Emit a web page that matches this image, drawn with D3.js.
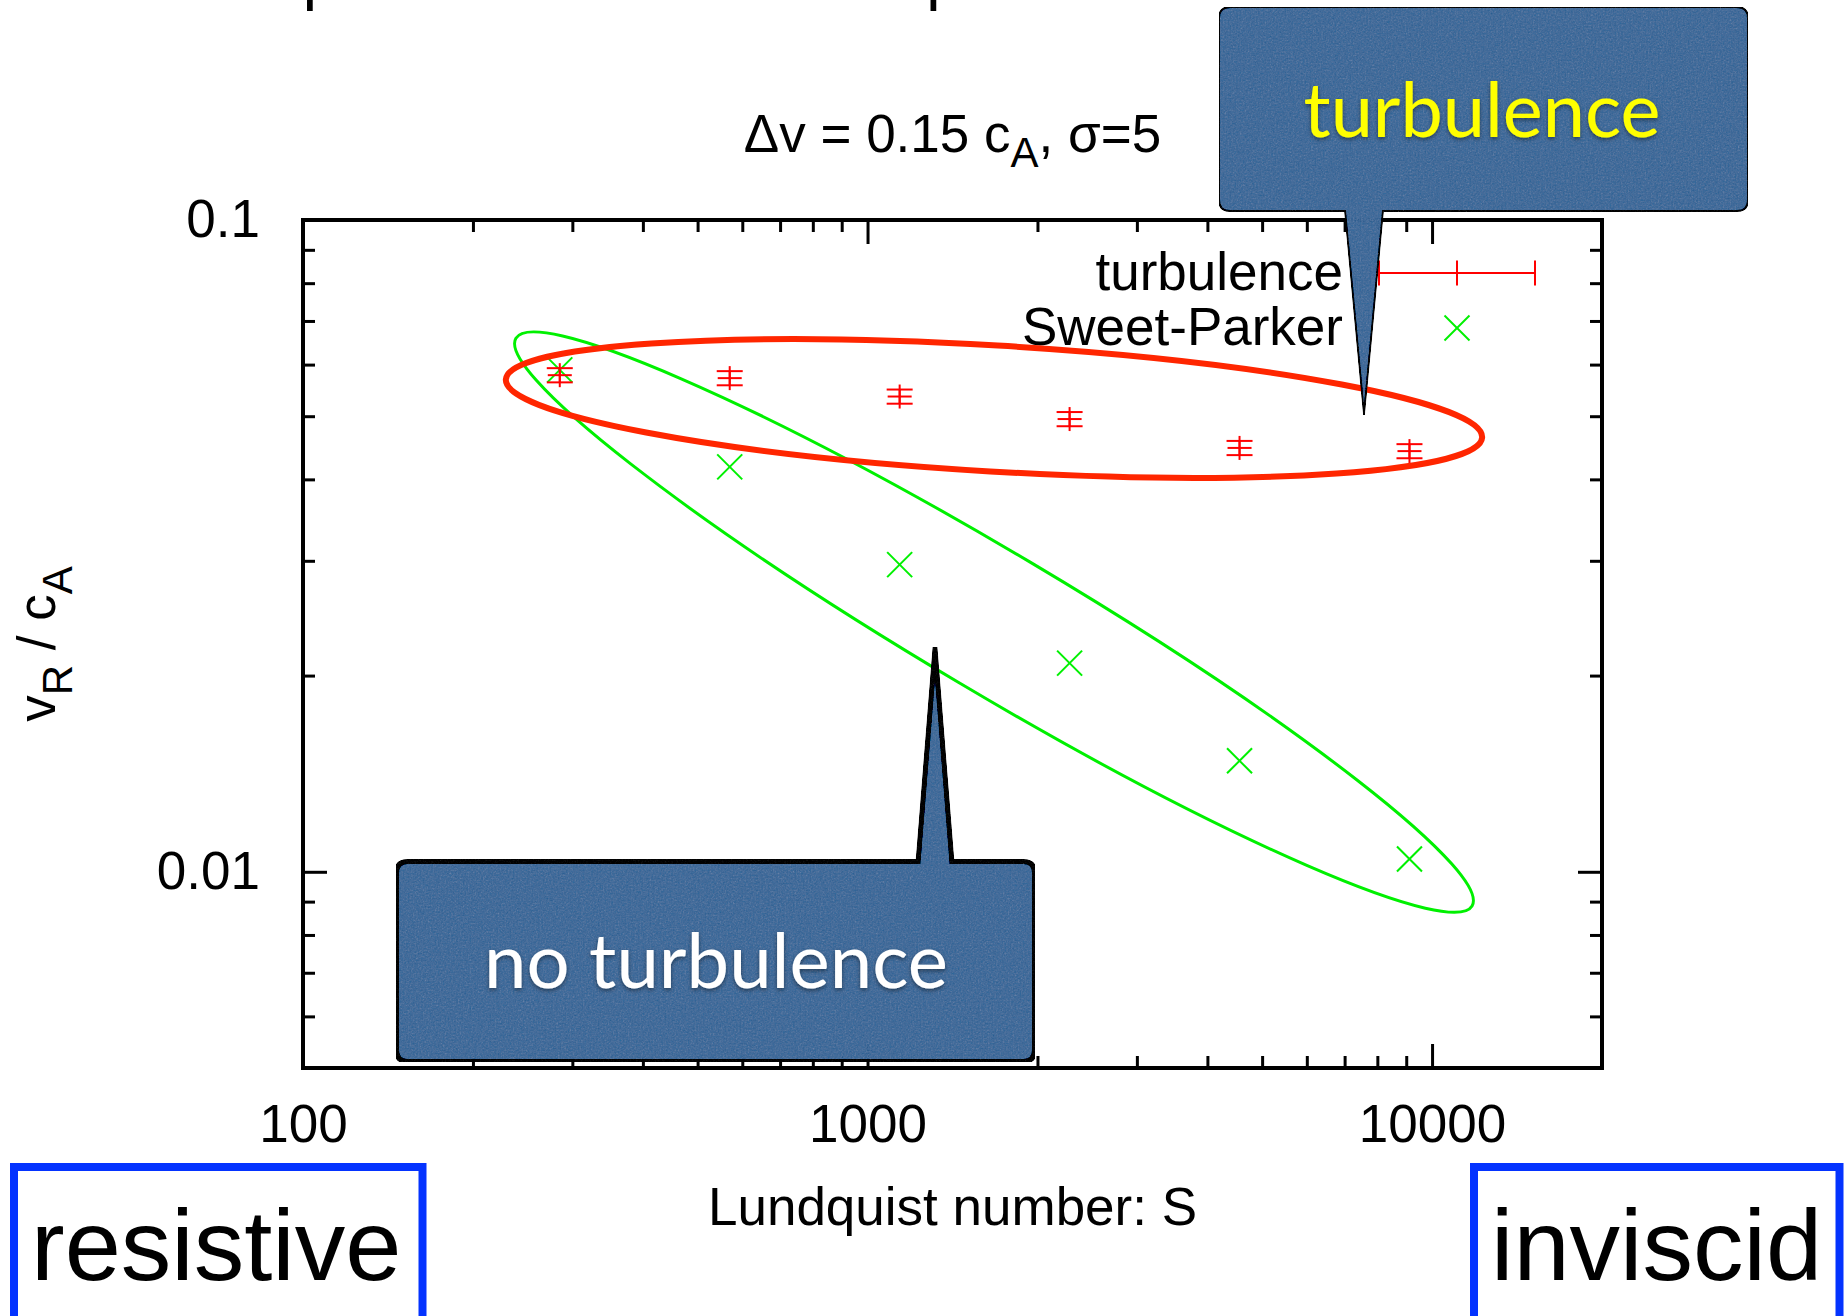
<!DOCTYPE html>
<html>
<head>
<meta charset="utf-8">
<script src="https://cdn.jsdelivr.net/npm/d3@7"></script>
<style>
  body { margin: 0; background: #fff; }
  svg { display: block; }
</style>
</head>
<body>
<div id="chart-area"></div>
<script>
// Data
const lundquist = [285, 570, 1140, 2280, 4560, 9120];
const turbulenceRate = [0.0578, 0.0572, 0.0536, 0.0495, 0.0447, 0.0442];
const turbulenceErr = [0.00145, 0.00143, 0.00134, 0.00124, 0.00112, 0.0011];
const sweetParkerRate = [0.0589, 0.0418, 0.0296, 0.0209, 0.0148, 0.01046];

const xMajor = [100, 1000, 10000];
const xMinor = [200, 300, 400, 500, 600, 700, 800, 900, 2000, 3000, 4000, 5000, 6000, 7000, 8000, 9000];
const xTickLabels = ['100', '1000', '10000'];
const yMajor = [0.01, 0.1];
const yMinor = [0.006, 0.007, 0.008, 0.009, 0.02, 0.03, 0.04, 0.05, 0.06, 0.07, 0.08, 0.09];
const yTickLabels = ['0.01', '0.1'];
const legendLabels = ['turbulence', 'Sweet-Parker'];

// Constants
const W = 1847, H = 1316;
const PLOT = { LEFT: 303, RIGHT: 1602, TOP: 220, BOTTOM: 1068 };
const FONT = '"Liberation Sans", Arial, Helvetica, sans-serif';
const CALLOUT_FONT = 'Lato, "Open Sans", sans-serif';
const FS = 53;
const RED = '#ff0000';
const GREEN = '#00f000';
const CALLOUT_FILL = '#5b7aa3';

// SVG
const svg = d3.select('#chart-area')
    .append('svg')
    .attr('width', W)
    .attr('height', H);

const defs = svg.append('defs');

// paper-like texture for the callouts
const tex = defs.append('filter').attr('id', 'tex')
    .attr('x', 0).attr('y', 0).attr('width', 1).attr('height', 1);
tex.append('feTurbulence').attr('type', 'fractalNoise')
    .attr('baseFrequency', 0.6).attr('numOctaves', 3).attr('seed', 3).attr('result', 'noise');
tex.append('feColorMatrix').attr('in', 'noise').attr('type', 'saturate').attr('values', 0).attr('result', 'gray');
tex.append('feComposite').attr('in', 'SourceGraphic').attr('in2', 'gray')
    .attr('operator', 'arithmetic').attr('k1', 0).attr('k2', 1).attr('k3', 0.2).attr('k4', -0.1).attr('result', 'mix');
tex.append('feComposite').attr('in', 'mix').attr('in2', 'SourceAlpha').attr('operator', 'in');

const shadow = defs.append('filter').attr('id', 'shadow')
    .attr('x', -0.1).attr('y', -0.2).attr('width', 1.2).attr('height', 1.5);
shadow.append('feDropShadow').attr('dx', 0).attr('dy', 2).attr('stdDeviation', 2)
    .attr('flood-color', '#000').attr('flood-opacity', 0.45);

// cut-off slide title (only descenders visible)
svg.selectAll('.title-frag')
    .data([302.5, 926])
    .enter().append('text')
    .attr('class', 'title-frag')
    .attr('x', d => d)
    .attr('y', 0)
    .attr('font-family', CALLOUT_FONT)
    .attr('font-size', 64)
    .attr('fill', '#000')
    .text('p');

// Scales
const x = d3.scaleLog().domain([100, 20000]).range([PLOT.LEFT, PLOT.RIGHT]);
const y = d3.scaleLog().domain([0.005, 0.1]).range([PLOT.BOTTOM, PLOT.TOP]);

function styleAxis(g) {
    g.select('.domain').remove();
    g.selectAll('.tick line').attr('stroke', '#000').attr('stroke-width', 3);
    g.selectAll('.tick text')
        .attr('font-family', FONT)
        .attr('font-size', FS)
        .attr('fill', '#000');
}

// Axes: major ticks
svg.append('g')
    .attr('transform', `translate(0,${PLOT.BOTTOM})`)
    .call(d3.axisBottom(x).tickValues(xMajor).tickSize(-24).tickPadding(36)
        .tickFormat((d, i) => xTickLabels[i]))
    .call(styleAxis);
svg.append('g')
    .attr('transform', `translate(0,${PLOT.TOP})`)
    .call(d3.axisTop(x).tickValues(xMajor).tickSize(-24).tickFormat(''))
    .call(styleAxis);
svg.append('g')
    .attr('transform', `translate(${PLOT.LEFT},0)`)
    .call(d3.axisLeft(y).tickValues(yMajor).tickSize(-24).tickPadding(43)
        .tickFormat((d, i) => yTickLabels[i]))
    .call(styleAxis);
svg.append('g')
    .attr('transform', `translate(${PLOT.RIGHT},0)`)
    .call(d3.axisRight(y).tickValues(yMajor).tickSize(-24).tickFormat(''))
    .call(styleAxis);

// Axes: minor ticks
svg.append('g')
    .attr('transform', `translate(0,${PLOT.BOTTOM})`)
    .call(d3.axisBottom(x).tickValues(xMinor).tickSize(-12).tickFormat(''))
    .call(styleAxis);
svg.append('g')
    .attr('transform', `translate(0,${PLOT.TOP})`)
    .call(d3.axisTop(x).tickValues(xMinor).tickSize(-12).tickFormat(''))
    .call(styleAxis);
svg.append('g')
    .attr('transform', `translate(${PLOT.LEFT},0)`)
    .call(d3.axisLeft(y).tickValues(yMinor).tickSize(-12).tickFormat(''))
    .call(styleAxis);
svg.append('g')
    .attr('transform', `translate(${PLOT.RIGHT},0)`)
    .call(d3.axisRight(y).tickValues(yMinor).tickSize(-12).tickFormat(''))
    .call(styleAxis);

// Border
svg.append('rect')
    .attr('x', PLOT.LEFT).attr('y', PLOT.TOP)
    .attr('width', PLOT.RIGHT - PLOT.LEFT)
    .attr('height', PLOT.BOTTOM - PLOT.TOP)
    .attr('fill', 'none')
    .attr('stroke', '#000')
    .attr('stroke-width', 4);

// Subtitle
const sub = svg.append('text')
    .attr('x', (PLOT.LEFT + PLOT.RIGHT) / 2)
    .attr('y', 152)
    .attr('text-anchor', 'middle')
    .attr('font-family', FONT)
    .attr('font-size', FS);
sub.append('tspan').text('\u0394v = 0.15 c');
sub.append('tspan').attr('font-size', 42).attr('dy', 15).text('A');
sub.append('tspan').attr('dy', -15).text(', \u03c3=5');

// Axis titles
svg.append('text')
    .attr('x', (PLOT.LEFT + PLOT.RIGHT) / 2)
    .attr('y', 1225)
    .attr('text-anchor', 'middle')
    .attr('font-family', FONT)
    .attr('font-size', FS)
    .text('Lundquist number: S');

const ylab = svg.append('text')
    .attr('transform', `translate(55,${(PLOT.TOP + PLOT.BOTTOM) / 2}) rotate(-90)`)
    .attr('text-anchor', 'middle')
    .attr('font-family', FONT)
    .attr('font-size', FS);
ylab.append('tspan').text('v');
ylab.append('tspan').attr('font-size', 42).attr('dy', 17).text('R');
ylab.append('tspan').attr('dy', -17).text(' / c');
ylab.append('tspan').attr('font-size', 42).attr('dy', 17).text('A');

// Data groups
const turb = lundquist.map((s, i) => ({ s, v: turbulenceRate[i], e: turbulenceErr[i] }));
const sp = lundquist.map((s, i) => ({ s, v: sweetParkerRate[i] }));

// Sweet-Parker points (x)
const spG = svg.append('g').attr('stroke', GREEN).attr('stroke-width', 2);
sp.forEach(d => {
    const cx = x(d.s), cy = y(d.v), r = 12.5;
    spG.append('line').attr('x1', cx - r).attr('y1', cy - r).attr('x2', cx + r).attr('y2', cy + r);
    spG.append('line').attr('x1', cx - r).attr('y1', cy + r).attr('x2', cx + r).attr('y2', cy - r);
});

// Turbulence points with y error bars
const tG = svg.append('g').attr('stroke', RED).attr('stroke-width', 2);
turb.forEach(d => {
    const cx = x(d.s), cy = y(d.v), yl = y(d.v - d.e), yh = y(d.v + d.e);
    const cap = 13, r = 12;
    tG.append('line').attr('x1', cx).attr('x2', cx).attr('y1', yh).attr('y2', yl);
    tG.append('line').attr('x1', cx - cap).attr('x2', cx + cap).attr('y1', yh).attr('y2', yh);
    tG.append('line').attr('x1', cx - cap).attr('x2', cx + cap).attr('y1', yl).attr('y2', yl);
    tG.append('line').attr('x1', cx - r).attr('x2', cx + r).attr('y1', cy).attr('y2', cy);
    tG.append('line').attr('x1', cx).attr('x2', cx).attr('y1', cy - r).attr('y2', cy + r);
});

// Legend
const legend = svg.append('g');
legend.selectAll('text')
    .data(legendLabels)
    .enter().append('text')
    .attr('x', 1343)
    .attr('y', (d, i) => 290 + i * 55)
    .attr('text-anchor', 'end')
    .attr('font-family', FONT)
    .attr('font-size', FS)
    .text(d => d);
const lg = legend.append('g').attr('stroke', RED).attr('stroke-width', 2);
const ly = 273, lx0 = 1379, lx1 = 1535, lxm = 1457;
lg.append('line').attr('x1', lx0).attr('x2', lx1).attr('y1', ly).attr('y2', ly);
[lx0, lxm, lx1].forEach(px => {
    lg.append('line').attr('x1', px).attr('x2', px).attr('y1', ly - 12.5).attr('y2', ly + 12.5);
});
const lg2 = legend.append('g').attr('stroke', GREEN).attr('stroke-width', 2);
lg2.append('line').attr('x1', lxm - 12.5).attr('y1', 328 - 12.5).attr('x2', lxm + 12.5).attr('y2', 328 + 12.5);
lg2.append('line').attr('x1', lxm - 12.5).attr('y1', 328 + 12.5).attr('x2', lxm + 12.5).attr('y2', 328 - 12.5);

// Hand-drawn ellipses grouping the two regimes
const ellipses = [
    { s: 1675, v: 0.02416, rx: 556, ry: 70, rot: 30.7, color: '#00f000', w: 3 },
    { s: 1675, v: 0.05138, rx: 489, ry: 63, rot: 3.4, color: '#ff2600', w: 6 }
];
svg.selectAll('.ring')
    .data(ellipses)
    .enter().append('ellipse')
    .attr('class', 'ring')
    .attr('transform', d => `translate(${x(d.s)},${y(d.v)}) rotate(${d.rot})`)
    .attr('rx', d => d.rx)
    .attr('ry', d => d.ry)
    .attr('fill', 'none')
    .attr('stroke', d => d.color)
    .attr('stroke-width', d => d.w);

// Callouts
function calloutPath(x0, y0, x1, y1, r, pa, pb, tip, onTop) {
    const p = d3.path();
    p.moveTo(x0 + r, y0);
    if (onTop) {
        p.lineTo(pa, y0); p.lineTo(tip[0], tip[1]); p.lineTo(pb, y0);
    }
    p.lineTo(x1 - r, y0);
    p.quadraticCurveTo(x1, y0, x1, y0 + r);
    p.lineTo(x1, y1 - r);
    p.quadraticCurveTo(x1, y1, x1 - r, y1);
    if (!onTop) {
        p.lineTo(pb, y1); p.lineTo(tip[0], tip[1]); p.lineTo(pa, y1);
    }
    p.lineTo(x0 + r, y1);
    p.quadraticCurveTo(x0, y1, x0, y1 - r);
    p.lineTo(x0, y0 + r);
    p.quadraticCurveTo(x0, y0, x0 + r, y0);
    p.closePath();
    return p.toString();
}

// "turbulence" callout, pointing at the turbulent branch
svg.append('path')
    .attr('d', calloutPath(1219, 7, 1748, 211, 11, 1345, 1383, [1364, 415], false))
    .attr('fill', CALLOUT_FILL)
    .attr('stroke', '#1e1e1e')
    .attr('stroke-width', 2)
    .attr('stroke-linejoin', 'miter')
    .attr('filter', 'url(#tex)');
svg.append('text')
    .attr('x', 1482)
    .attr('y', 137)
    .attr('text-anchor', 'middle')
    .attr('font-family', CALLOUT_FONT)
    .attr('font-size', 76)
    .attr('textLength', 357)
    .attr('lengthAdjust', 'spacingAndGlyphs')
    .attr('fill', '#ffff00')
    .attr('filter', 'url(#shadow)')
    .text('turbulence');

// "no turbulence" callout, pointing at the Sweet-Parker branch
svg.append('path')
    .attr('d', calloutPath(396.5, 861.5, 1034.5, 1061.5, 11, 918, 952, [935, 647], true))
    .attr('fill', CALLOUT_FILL)
    .attr('stroke', '#000')
    .attr('stroke-width', 5)
    .attr('stroke-linejoin', 'miter')
    .attr('filter', 'url(#tex)');
svg.append('text')
    .attr('x', 716)
    .attr('y', 988)
    .attr('text-anchor', 'middle')
    .attr('font-family', CALLOUT_FONT)
    .attr('font-size', 76)
    .attr('textLength', 464)
    .attr('lengthAdjust', 'spacingAndGlyphs')
    .attr('fill', '#ffffff')
    .attr('filter', 'url(#shadow)')
    .text('no turbulence');

// Regime boxes
const regimes = [
    { label: 'resistive', x: 14, w: 408.5, tx: 31 },
    { label: 'inviscid', x: 1474, w: 365.5, tx: 1491 }
];
const rg = svg.selectAll('.regime')
    .data(regimes)
    .enter().append('g')
    .attr('class', 'regime');
rg.append('rect')
    .attr('x', d => d.x)
    .attr('y', 1167)
    .attr('width', d => d.w)
    .attr('height', 160)
    .attr('fill', 'none')
    .attr('stroke', '#0433ff')
    .attr('stroke-width', 8);
rg.append('text')
    .attr('x', d => d.tx)
    .attr('y', 1280)
    .attr('font-family', FONT)
    .attr('font-size', 101)
    .attr('fill', '#000')
    .text(d => d.label);
</script>
</body>
</html>
